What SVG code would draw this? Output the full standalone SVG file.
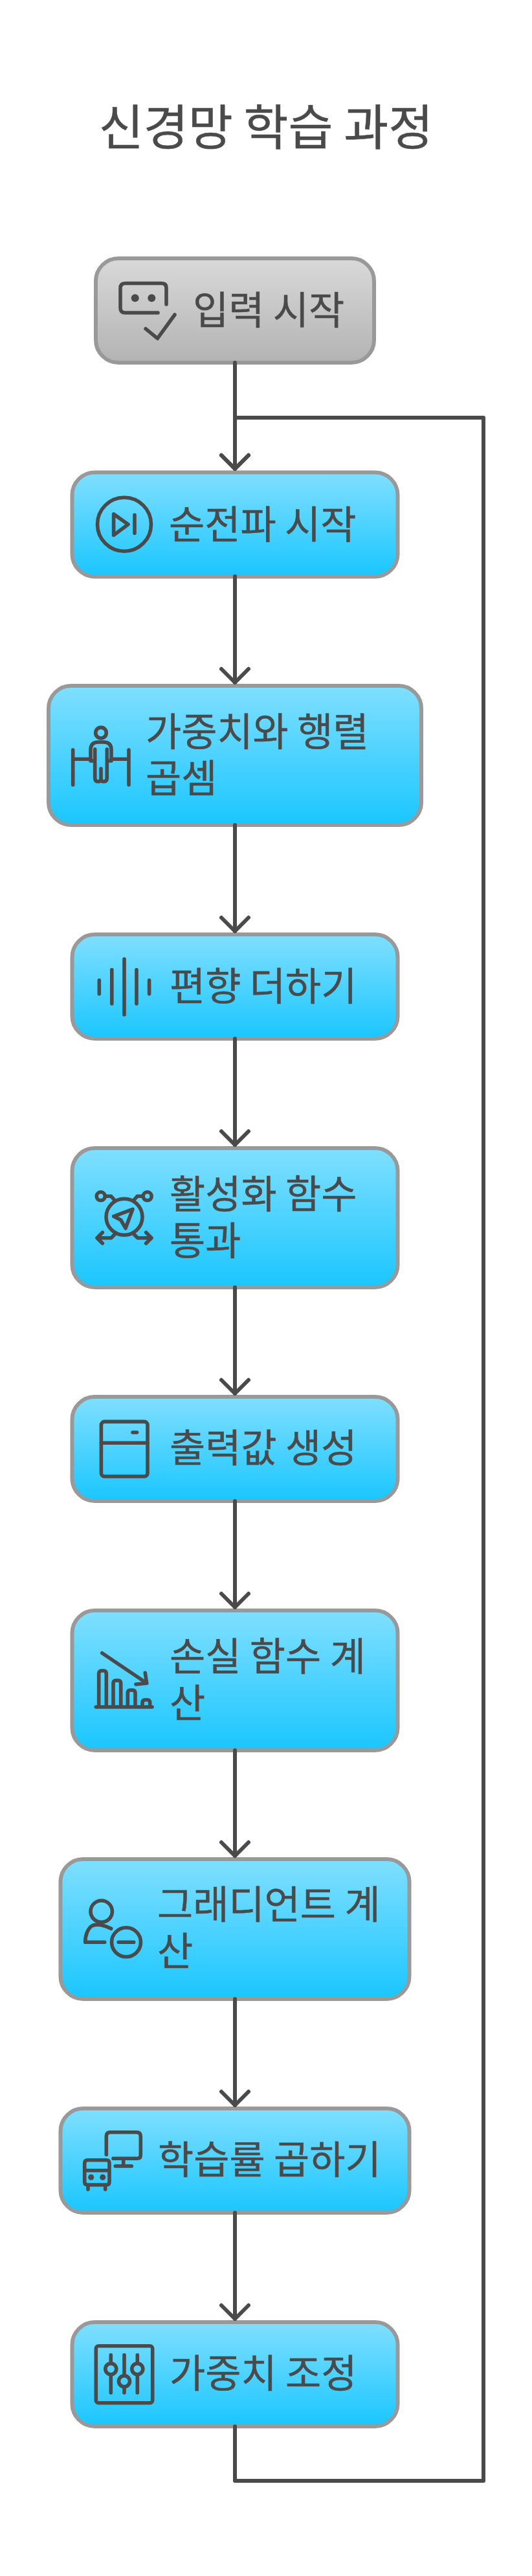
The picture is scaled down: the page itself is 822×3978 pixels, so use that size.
<svg xmlns="http://www.w3.org/2000/svg" width="822" height="3978" viewBox="0 0 822 3978">
<style>
text{font-family:"Noto Sans CJK KR","Noto Sans",sans-serif;fill:#4a4a4a;stroke:#4a4a4a;stroke-width:.5}
.t{font-size:60px}
.title{font-size:75px}
.box{stroke:#999;stroke-width:6;fill:url(#blue)}
.start{fill:url(#gray)}
.i{fill:none;stroke:#4a4a4a;stroke-width:5.6;stroke-linecap:round;stroke-linejoin:round}
.d{fill:#4a4a4a}
.c{fill:none;stroke:#4a4a4a;stroke-width:6;stroke-linecap:round;stroke-linejoin:round}
</style>
<defs>
<linearGradient id="blue" x1="0" y1="0" x2="0" y2="1"><stop offset="0" stop-color="#80dfff"/><stop offset="1" stop-color="#1ac6ff"/></linearGradient>
<linearGradient id="gray" x1="0" y1="0" x2="0" y2="1"><stop offset="0" stop-color="#d9d9d9"/><stop offset="1" stop-color="#b3b3b3"/></linearGradient>
<marker id="arrow" markerUnits="userSpaceOnUse" markerWidth="60" markerHeight="60" viewBox="-50 -30 60 60" refX="0" refY="0" orient="auto"><path d="M-21 -21L0 0L-21 21" fill="none" stroke="#4a4a4a" stroke-width="6" stroke-linecap="round" stroke-linejoin="round"/></marker>
</defs>
<rect width="822" height="3978" fill="#fff"/>
<text id="title" class="title" x="411" y="224" text-anchor="middle">신경망 학습 과정</text>

<g id="n1"><rect class="box start" x="148" y="399" width="430" height="161" rx="35"/>
<path class="i" d="M257 470V445Q257 437.500 249.500 437.500H193.500Q186 437.500 186 445V475.500Q186 483 193.500 483H244"/>
<circle class="d" cx="208.700" cy="460.300" r="6"/><circle class="d" cx="234.300" cy="460.300" r="6"/>
<path class="i" d="M225 507.700L243.300 522.700L270 486"/>
<text class="t" x="298" y="501">입력 시작</text></g>

<g id="n2"><rect class="box" x="111.500" y="729.500" width="503" height="161" rx="35"/>
<circle class="i" cx="192" cy="809.700" r="41.500"/>
<path class="i" d="M175.600 793.900V826.500L198 809.700Z M208 795.400V823.500"/>
<text class="t" x="261" y="832">순전파 시작</text></g>

<g id="n3"><rect class="box" x="75" y="1059" width="576" height="215" rx="35"/>
<circle class="i" cx="156" cy="1131.700" r="8.300"/>
<path class="i" d="M112.700 1158V1212M199 1158V1212M112.700 1172.300H140M172 1172.300H199"/>
<path class="i" d="M140 1175V1158Q140 1146 152 1146H160Q172 1146 172 1158V1175H165.300M140 1175H146.700M146.700 1157V1175M165.300 1157V1175"/>
<path class="i" d="M146.700 1178V1201Q146.700 1207 152 1207Q156 1207 156 1202V1187V1202Q156 1207 160 1207Q165.300 1207 165.300 1201V1178"/>
<text class="t" x="225" y="1152">가중치와 행렬</text><text class="t" x="225" y="1224">곱셈</text></g>

<g id="n4"><rect class="box" x="111.500" y="1443" width="503" height="161" rx="35"/>
<path class="i" d="M153.300 1513.700V1534.700M172.800 1497.600V1550M192 1481V1567M211 1497.600V1550M230.600 1513.700V1534.700"/>
<text class="t" x="262" y="1545">편향 더하기</text></g>

<g id="n5"><rect class="box" x="111.500" y="1773" width="503" height="215" rx="35"/>
<circle class="i" cx="192" cy="1879.300" r="28"/>
<circle class="i" cx="155.700" cy="1847.300" r="6.500"/><circle class="i" cx="227.700" cy="1847.300" r="6.500"/>
<path class="i" d="M163 1847.300H171.700L176.700 1853M220.700 1847.300H212L207 1853"/>
<path class="i" d="M158.300 1903.300L150 1911.700L158.300 1920M150 1911.700H171.700L176.700 1906.700M225.700 1903.300L234 1911.700L225.700 1920M234 1911.700H212.700L207.700 1906.700"/>
<path class="i" d="M205 1867.300L175.700 1878.300L186.700 1884L194 1896.700Z"/>
<text class="t" x="262" y="1866">활성화 함수</text><text class="t" x="262" y="1938">통과</text></g>

<g id="n6"><rect class="box" x="111.500" y="2157" width="503" height="161" rx="35"/>
<rect class="i" x="156.400" y="2195.400" width="71.600" height="84.600" rx="5"/>
<path class="i" d="M156.400 2228.300H228M205 2212H211.500"/>
<text class="t" x="262" y="2258">출력값 생성</text></g>

<g id="n7"><rect class="box" x="111.500" y="2487" width="503" height="216" rx="35"/>
<path class="i" d="M148.300 2636H235M152.700 2636V2585Q152.700 2580 157 2580H160Q164.300 2580 164.300 2585V2636M175 2636V2600Q175 2595 179 2595H182.700Q186.700 2595 186.700 2600V2636M197.300 2636V2615Q197.300 2610 201 2610H205Q209 2610 209 2615V2636M220 2636V2630Q220 2625 224 2625H228Q231.700 2625 231.700 2630V2636"/>
<path class="i" d="M157.700 2552.700L226.700 2599.300M224.300 2583.300L226.700 2599.300L210 2601"/>
<text class="t" x="262" y="2580">손실 함수 계</text><text class="t" x="262" y="2652">산</text></g>

<g id="n8"><rect class="box" x="93.500" y="2871" width="539" height="216" rx="35"/>
<circle class="i" cx="156.700" cy="2951.700" r="16.700"/>
<path class="i" d="M171.700 2978.300C162 2973 150 2970 142 2974C136 2978 131.700 2988 131.700 2999.300H161.700"/>
<circle class="i" cx="195" cy="2999.300" r="22.500"/>
<path class="i" d="M183.300 2999.300H206.700"/>
<text class="t" x="243" y="2963">그래디언트 계</text><text class="t" x="243" y="3035">산</text></g>

<g id="n9"><rect class="box" x="93.500" y="3256" width="539" height="161" rx="35"/>
<path class="i" d="M164.300 3327.300V3299Q164.300 3292.700 170.500 3292.700H211Q217.300 3292.700 217.300 3299V3328Q217.300 3333.300 212 3333.300H175M190.700 3333.300V3345M178.300 3345H203.300"/>
<path class="i" d="M135.500 3335.700H164.500Q169 3335.700 169 3340.500V3369.500Q169 3374 164.500 3374H135.500Q130.700 3374 130.700 3369.500V3340.500Q130.700 3335.700 135.500 3335.700ZM130.700 3351.700H169M136 3374V3381M162.700 3374V3381"/>
<circle class="d" cx="140.700" cy="3362.300" r="4.500"/><circle class="d" cx="158.700" cy="3362.300" r="4.500"/>
<text class="t" x="244" y="3356.500">학습률 곱하기</text></g>

<g id="n10"><rect class="box" x="111.500" y="3586" width="503" height="161" rx="35"/>
<rect class="i" x="148.300" y="3622.700" width="87.400" height="88" rx="4"/>
<circle class="i" cx="171.300" cy="3658.300" r="8.500"/><circle class="i" cx="192" cy="3677.300" r="8.500"/><circle class="i" cx="212.300" cy="3658.300" r="8.500"/>
<path class="i" d="M171.300 3636.700V3649.800M171.300 3666.800V3695M192 3636.700V3668.800M192 3685.800V3695M212.300 3636.700V3649.800M212.300 3666.800V3695"/>
<text class="t" x="262" y="3687">가중치 조정</text></g>

<g id="connectors">
<path class="c" d="M363 560V724" marker-end="url(#arrow)"/>
<path class="c" d="M363 890V1054" marker-end="url(#arrow)"/>
<path class="c" d="M363 1274V1438" marker-end="url(#arrow)"/>
<path class="c" d="M363 1604V1768" marker-end="url(#arrow)"/>
<path class="c" d="M363 1988V2152" marker-end="url(#arrow)"/>
<path class="c" d="M363 2318V2482" marker-end="url(#arrow)"/>
<path class="c" d="M363 2703V2866" marker-end="url(#arrow)"/>
<path class="c" d="M363 3087V3251" marker-end="url(#arrow)"/>
<path class="c" d="M363 3417V3581" marker-end="url(#arrow)"/>
<path class="c" d="M363 3747V3831H747V645H363V724" marker-end="url(#arrow)"/>
</g>
</svg>
